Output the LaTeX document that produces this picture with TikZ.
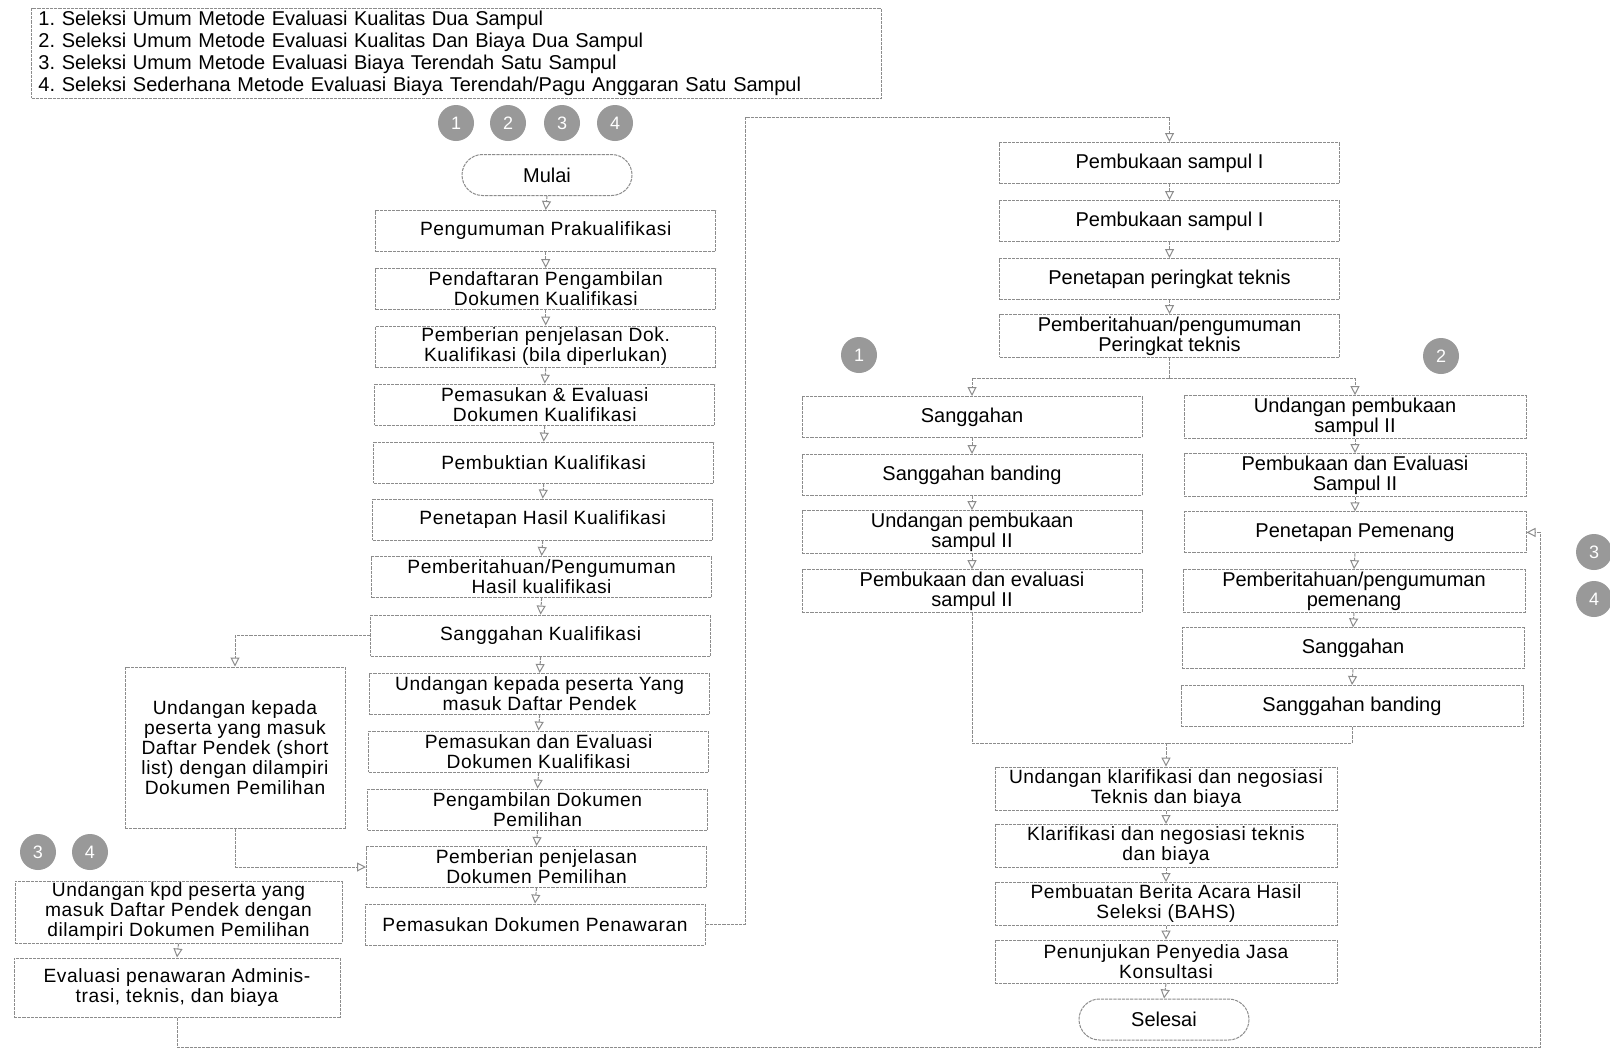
\documentclass[tikz,border=0pt]{standalone}
\usepackage{fontspec}
\setmainfont{Liberation Sans}
\newfontfamily\trackedfont{Liberation Sans}[LetterSpace=3]
\usetikzlibrary{arrows.meta,shapes.misc}
\definecolor{linegray}{gray}{0.55}
\definecolor{dotgray}{gray}{0.6}
\frenchspacing
\begin{document}
\begin{tikzpicture}[x=0.5pt,y=-0.5pt,
  every node/.style={font=\fontsize{10}{10}\selectfont},
  stepbox/.style={draw=linegray, dash pattern=on 1.6pt off 0.5pt, line width=0.5pt,
    minimum width=170pt, minimum height=20.5pt, align=center, inner sep=1pt},
  tracked/.style={font=\trackedfont\fontsize{9.6}{10}\selectfont},
  term/.style={draw=linegray, dash pattern=on 1.6pt off 0.5pt, line width=0.5pt,
    rounded rectangle, minimum width=87pt, minimum height=20.5pt, inner sep=1pt},
  badge/.style={circle, fill=dotgray, text=white, minimum size=18pt, inner sep=0pt,
    font=\fontsize{9}{9}\selectfont},
  link/.style={draw=linegray, dash pattern=on 1.6pt off 0.5pt, line width=0.5pt},
  arr/.style={link, -{Triangle[open, length=4.5pt, width=4.5pt]}}
]
\useasboundingbox (0,0) rectangle (1610,1050);
\fill[white] (0,0) rectangle (1610,1050);

% legend of the four selection methods
\node[draw=linegray, dash pattern=on 1.6pt off 0.5pt, line width=0.5pt, anchor=north west,
  text width=418pt, inner xsep=3.5pt, inner ysep=1.3pt, align=left,
  font=\fontsize{10}{11}\selectfont] (legend) at (31,8)
  {1. Seleksi Umum Metode Evaluasi Kualitas Dua Sampul\\
   2. Seleksi Umum Metode Evaluasi Kualitas Dan Biaya Dua Sampul\\
   3. Seleksi Umum Metode Evaluasi Biaya Terendah Satu Sampul\\
   4. Seleksi Sederhana Metode Evaluasi Biaya Terendah/Pagu Anggaran Satu Sampul};

% method badges above the start
\node[badge] (t1) at (456,123) {1};
\node[badge] (t2) at (508,123) {2};
\node[badge] (t3) at (562,123) {3};
\node[badge] (t4) at (615,123) {4};

\node[term] (mulai) at (547,175) {Mulai};

% main qualification column
\begin{scope}[every node/.append style={tracked}]
\node[stepbox] (m1)  at (545.7,231)   {Pengumuman Prakualifikasi};
\node[stepbox] (m2)  at (545.7,289)   {Pendaftaran Pengambilan\\Dokumen Kualifikasi};
\node[stepbox] (m3)  at (545.7,347)   {Pemberian penjelasan Dok.\\Kualifikasi (bila diperlukan)};
\node[stepbox] (m4)  at (544.7,404.6) {Pemasukan \& Evaluasi\\Dokumen Kualifikasi};
\node[stepbox] (m5)  at (543.7,462.6) {Pembuktian Kualifikasi};
\node[stepbox] (m6)  at (542.7,519.6) {Penetapan Hasil Kualifikasi};
\node[stepbox] (m7)  at (541.6,577)   {Pemberitahuan/Pengumuman\\Hasil kualifikasi};
\node[stepbox] (m8)  at (540.6,635.6) {Sanggahan Kualifikasi};
\node[stepbox] (m9)  at (539.6,694)   {Undangan kepada peserta Yang\\masuk Daftar Pendek};
\node[stepbox] (m10) at (538.6,751.6) {Pemasukan dan Evaluasi\\Dokumen Kualifikasi};
\node[stepbox] (m11) at (537.5,809.6) {Pengambilan Dokumen\\Pemilihan};
\node[stepbox] (m12) at (536.5,867)   {Pemberian penjelasan\\Dokumen Pemilihan};
\node[stepbox] (m13) at (535,924.6)   {Pemasukan Dokumen Penawaran};

% short-list branch
\node[stepbox, minimum width=110pt, minimum height=80.5pt] (big) at (235,747.5)
  {Undangan kepada\\peserta yang masuk\\Daftar Pendek (short\\list) dengan dilampiri\\Dokumen Pemilihan};

% single-envelope branch (methods 3 and 4)
\node[stepbox, minimum width=163.5pt, minimum height=31pt] (l1) at (178.5,912)
  {Undangan kpd peserta yang\\masuk Daftar Pendek dengan\\dilampiri Dokumen Pemilihan};
\node[stepbox, minimum width=163pt, minimum height=29.5pt] (l2) at (177,987.5)
  {Evaluasi penawaran Adminis-\\trasi, teknis, dan biaya};
\end{scope}
\node[badge] (c3a) at (38,852) {3};
\node[badge] (c4a) at (90,852) {4};

% envelope I column
\node[stepbox] (r1) at (1169.5,163) {Pembukaan sampul I};
\node[stepbox] (r2) at (1169.5,221) {Pembukaan sampul I};
\node[stepbox] (r3) at (1169.5,279) {Penetapan peringkat teknis};
\node[stepbox] (r4) at (1169.5,336) {Pemberitahuan/pengumuman\\Peringkat teknis};

\node[badge] (c1) at (859,355) {1};
\node[badge] (c2) at (1441,356) {2};

% method 1 column
\node[stepbox] (a1) at (972,417) {Sanggahan};
\node[stepbox] (a2) at (972,475) {Sanggahan banding};
\node[stepbox] (a3) at (972,532) {Undangan pembukaan\\sampul II};
\node[stepbox] (a4) at (972,591) {Pembukaan dan evaluasi\\sampul II};

% method 2 column
\node[stepbox, minimum width=171pt] (b1) at (1355,417)   {Undangan pembukaan\\sampul II};
\node[stepbox, minimum width=171pt] (b2) at (1355,475)   {Pembukaan dan Evaluasi\\Sampul II};
\node[stepbox, minimum width=171pt] (b3) at (1355,532.4) {Penetapan Pemenang};
\node[stepbox, minimum width=171pt] (b4) at (1354,591)   {Pemberitahuan/pengumuman\\pemenang};
\node[stepbox, minimum width=171pt] (b5) at (1353,648.4) {Sanggahan};
\node[stepbox, minimum width=171pt] (b6) at (1352,706)   {Sanggahan banding};

\node[badge] (c3b) at (1594,552) {3};
\node[badge] (c4b) at (1594,599) {4};

% closing column
\begin{scope}[every node/.append style={tracked}]
\node[stepbox, minimum width=171pt, minimum height=21.5pt] (d1) at (1166,788.6) {Undangan klarifikasi dan negosiasi\\Teknis dan biaya};
\node[stepbox, minimum width=171pt, minimum height=21.5pt] (d2) at (1166,846)   {Klarifikasi dan negosiasi teknis\\dan biaya};
\node[stepbox, minimum width=171pt, minimum height=21.5pt] (d3) at (1166,904)   {Pembuatan Berita Acara Hasil\\Seleksi (BAHS)};
\node[stepbox, minimum width=171pt, minimum height=21.5pt] (d4) at (1166,961.6) {Penunjukan Penyedia Jasa\\Konsultasi};
\end{scope}
\node[term] (selesai) at (1164,1019.5) {Selesai};

% routing points
\coordinate (up)    at (745,117);
\coordinate (split) at (1169.5,378);
\coordinate (merge) at (1166,743);
\coordinate (ret)   at (1540,1047);

% connectors
\draw[arr] (mulai.south) -- (m1.north);
\foreach \i/\j in {1/2,2/3,3/4,4/5,5/6,6/7,7/8,8/9,9/10,10/11,11/12,12/13}
  \draw[arr] (m\i.south) -- (m\j.north);
\draw[arr] (m8.west) -| (big.north);
\draw[arr] (big.south) |- (m12.west);
\draw[arr] (l1.south) -- (l2.north);
\draw[arr] (m13.east) -| (up) -| (r1.north);
\draw[arr] (r1.south) -- (r2.north);
\draw[arr] (r2.south) -- (r3.north);
\draw[arr] (r3.south) -- (r4.north);
\draw[link] (r4.south) -- (split);
\draw[arr] (split) -| (a1.north);
\draw[arr] (split) -| (b1.north);
\draw[arr] (a1.south) -- (a2.north);
\draw[arr] (a2.south) -- (a3.north);
\draw[arr] (a3.south) -- (a4.north);
\foreach \i/\j in {1/2,2/3,3/4,4/5,5/6}
  \draw[arr] (b\i.south) -- (b\j.north);
\draw[link] (a4.south) |- (merge);
\draw[link] (b6.south) |- (merge);
\draw[arr] (merge) -- (d1.north);
\draw[arr] (d1.south) -- (d2.north);
\draw[arr] (d2.south) -- (d3.north);
\draw[arr] (d3.south) -- (d4.north);
\draw[arr] (d4.south) -- (selesai.north);
\draw[arr] (l2.south) |- (ret) |- (b3.east);
\end{tikzpicture}
\end{document}
